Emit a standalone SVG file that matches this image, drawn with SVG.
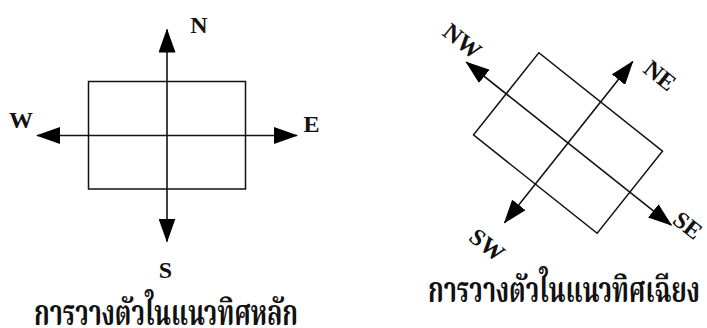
<svg xmlns="http://www.w3.org/2000/svg" width="707" height="328" viewBox="0 0 707 328">
  <defs>
    <!-- solid triangular arrowhead, tip at the end of the line -->
    <marker id="head" viewBox="0 0 24 17" refX="23" refY="8.5" markerWidth="24" markerHeight="17" markerUnits="userSpaceOnUse" orient="auto-start-reverse">
      <path d="M0,0 L24,8.5 L0,17 Z" fill="#000"/>
    </marker>
  </defs>
  <style>
    .plan { fill: none; stroke: #111; stroke-width: 1.5; }
    .axis { fill: none; stroke: #111; stroke-width: 1.6; marker-start: url(#head); marker-end: url(#head); }
    .dir { font-family: "Liberation Serif", "Times New Roman", serif; font-weight: bold; font-size: 24px; fill: #111; text-anchor: middle; }
    .cap { font-family: "Noto Serif Thai", "Noto Sans Thai Looped", "Noto Sans Thai", "Noto Sans", sans-serif; font-weight: bold; font-size: 35px; fill: #111; }
  </style>
  <rect width="707" height="328" fill="#fff"/>

  <!-- building aligned to the main compass directions -->
  <g id="cardinal" transform="translate(167,135.5)">
    <g id="cardinal-plan">
      <rect class="plan" x="-78.5" y="-54" width="157" height="107.5"/>
    </g>
    <g id="cardinal-connectors">
      <line class="axis" x1="0" y1="106" x2="0" y2="-106"/>
      <line class="axis" x1="-130" y1="0" x2="130" y2="0"/>
    </g>
    <g id="cardinal-labels">
      <text class="dir" x="32" y="-102.5">N</text>
      <text class="dir" x="-146" y="-7.5">W</text>
      <text class="dir" x="144.5" y="-3.5">E</text>
      <text class="dir" x="-1.5" y="142.5">S</text>
    </g>
  </g>

  <!-- the same building turned to the diagonal directions -->
  <g id="intercardinal" transform="translate(568,143) rotate(38.5)">
    <g id="intercardinal-plan">
      <rect class="plan" x="-79" y="-52.5" width="158" height="105"/>
    </g>
    <g id="intercardinal-connectors">
      <line class="axis" x1="0" y1="102" x2="0" y2="-104"/>
      <line class="axis" x1="-130" y1="0" x2="132" y2="0"/>
    </g>
    <g id="intercardinal-labels">
      <text class="dir" x="30" y="-102">NE</text>
      <text class="dir" x="-146" y="-6">NW</text>
      <text class="dir" x="145" y="-2">SE</text>
      <text class="dir" x="0" y="138">SW</text>
    </g>
  </g>

  <!-- captions -->
  <text id="caption-cardinal" class="cap" x="34" y="325" textLength="264" lengthAdjust="spacingAndGlyphs">การวางตัวในแนวทิศหลัก</text>
  <text id="caption-intercardinal" class="cap" x="428" y="302" textLength="272" lengthAdjust="spacingAndGlyphs">การวางตัวในแนวทิศเฉียง</text>
</svg>
